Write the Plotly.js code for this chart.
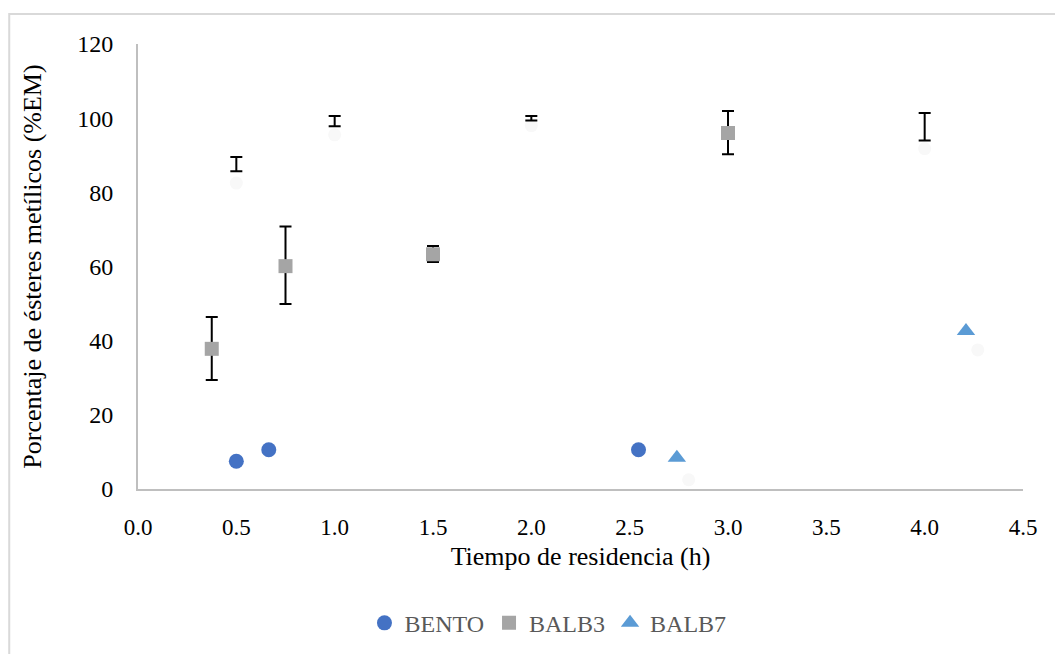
<!DOCTYPE html>
<html><head><meta charset="utf-8">
<script src="https://cdn.plot.ly/plotly-3.0.1.min.js"></script>
<style>html,body{margin:0;padding:0;background:#fff}</style>
</head><body><div id="chart" style="width:1055px;height:654px"></div>
<script>
// BENTO
const bentoX = [0.50, 0.665, 2.545];
const bentoY = [7.5, 10.6, 10.6];
// BALB3
const balb3X = [0.375, 0.75, 1.5, 3.0];
const balb3Y = [37.8, 60.1, 63.3, 96.0];
const balb3ErrPlus = [8.6, 10.7, 2.2, 5.9];
const balb3ErrMinus = [8.4, 10.2, 2.1, 5.7];
// BALB7
const balb7X = [2.74, 4.21];
const balb7Y = [8.4, 42.6];
// unlabelled series (faint markers with error bars)
const hiddenX = [0.5, 1.0, 2.0, 4.0];
const hiddenY = [87.6, 99.2, 100.0, 97.7];
const hiddenErr = [1.9, 1.4, 0.6, 3.7];
const ghostX = [0.5, 1.0, 2.0, 4.0, 2.8, 4.27];
const ghostY = [82.5, 95.5, 98.0, 91.8, 2.5, 37.5];

const font = 'Liberation Serif, Times New Roman, serif';

const traces = [
  {x: ghostX, y: ghostY, type: 'scatter', mode: 'markers', showlegend: false, hoverinfo: 'skip',
   marker: {symbol: 'circle', size: 13, color: '#f8f8f8'}},
  {x: hiddenX, y: hiddenY, type: 'scatter', mode: 'markers', showlegend: false,
   marker: {size: 1, color: 'rgba(0,0,0,0)'},
   error_y: {type: 'data', array: hiddenErr, visible: true, color: '#000', thickness: 2, width: 6}},
  {x: bentoX, y: bentoY, name: 'BENTO', type: 'scatter', mode: 'markers',
   marker: {symbol: 'circle', size: 15, color: '#4472C4'}},
  {x: balb3X, y: balb3Y, name: 'BALB3', type: 'scatter', mode: 'markers',
   marker: {symbol: 'square', size: 14, color: '#A5A5A5'},
   error_y: {type: 'data', symmetric: false, array: balb3ErrPlus, arrayminus: balb3ErrMinus,
             visible: true, color: '#000', thickness: 2, width: 6}},
  {x: balb7X, y: balb7Y, name: 'BALB7', type: 'scatter', mode: 'markers',
   marker: {symbol: 'triangle-up', size: 16, color: '#5B9BD5'}}
];

const layout = {
  width: 1055, height: 654,
  margin: {l: 138, r: 32, t: 44, b: 165},
  paper_bgcolor: '#fff', plot_bgcolor: '#fff',
  font: {family: font, color: '#000', size: 23},
  xaxis: {
    range: [0, 4.5], dtick: 0.5, tickformat: '.1f', showgrid: false, zeroline: false,
    showline: true, linecolor: '#BFBFBF', linewidth: 2, ticks: '', automargin: false,
    tickfont: {family: font, size: 23, color: '#000'}, ticklabelstandoff: 16,
    title: {text: 'Tiempo de residencia (h)', font: {family: font, size: 26, color: '#000'}, standoff: 8}
  },
  yaxis: {
    range: [0, 120], dtick: 20, showgrid: false, zeroline: false,
    showline: true, linecolor: '#BFBFBF', linewidth: 2, ticks: '', automargin: false,
    tickfont: {family: font, size: 24, color: '#000'}, ticklabelstandoff: 18,
    title: {text: 'Porcentaje de ésteres metílicos (%EM)', font: {family: font, size: 26, color: '#000'}, standoff: 28}
  },
  legend: {orientation: 'h', xref: 'container', yref: 'container', x: 0.5194, xanchor: 'center',
           y: 0.047, yanchor: 'middle',
           font: {family: font, size: 24, color: '#595959'}, itemwidth: 30, tracegroupgap: 0},
  shapes: [{type: 'rect', xref: 'paper', yref: 'paper', x0: -0.1455, x1: 1.1, y0: -0.5, y1: 1.0674,
            line: {color: '#D9D9D9', width: 2}, fillcolor: 'rgba(0,0,0,0)', layer: 'below'}],
  showlegend: true
};

Plotly.newPlot('chart', traces, layout, {displayModeBar: false, staticPlot: true});
</script></body></html>
